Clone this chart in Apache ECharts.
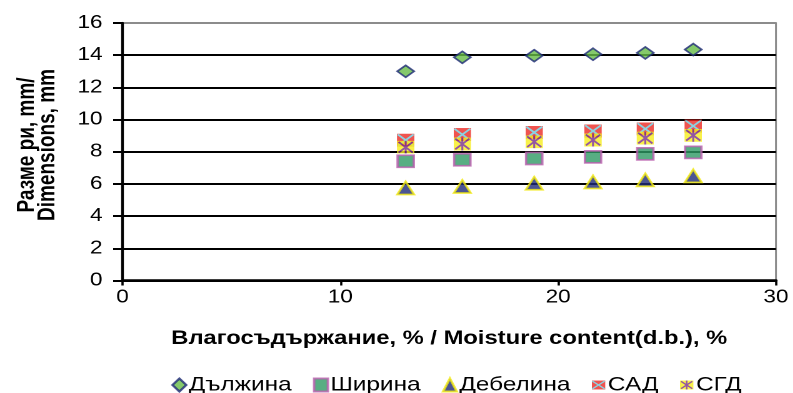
<!DOCTYPE html>
<html>
<head>
<meta charset="utf-8">
<script src="https://cdn.jsdelivr.net/npm/echarts@6/dist/echarts.min.js"></script>
<style>
  html, body { margin: 0; padding: 0; background: #fff; overflow: hidden; }
  /* the chart is drawn on a narrower canvas and widened, giving the wide lettering */
  #chart { width: 634.4px; height: 393px; transform: scaleX(1.25); transform-origin: 0 0; }
</style>
</head>
<body>
<div id="chart"></div>
<script>
// Moisture content (d.b.), %
const moisture = [13.0, 15.6, 18.9, 21.6, 24.0, 26.2];
// Dimensions, mm
const lengthMm = [13.0, 13.87, 13.97, 14.06, 14.14, 14.35];   // Дължина
const widthMm = [7.41, 7.50, 7.58, 7.68, 7.87, 7.96];          // Ширина
const thickMm = [5.75, 5.84, 6.04, 6.12, 6.25, 6.50];          // Дебелина
const arithMean = [8.72, 9.07, 9.20, 9.29, 9.42, 9.60];        // САД
const geoMean = [8.28, 8.48, 8.62, 8.73, 8.85, 9.02];          // СГД

const seriesNames = ['Дължина', 'Ширина', 'Дебелина', 'САД', 'СГД'];
const xTicks = { min: 0, max: 30, step: 10 };
const yTicks = { min: 0, max: 16, step: 2 };

const FONT = '"Liberation Sans", Arial, sans-serif';

function pairs(xs, ys) { return xs.map((x, i) => [x, ys[i]]); }

function svgIcon(body) {
  const svg = '<svg xmlns="http://www.w3.org/2000/svg" width="32" height="26" viewBox="0 0 16 13">' + body + '</svg>';
  return 'image://data:image/svg+xml;charset=utf-8,' + encodeURIComponent(svg);
}

// red box crossed by a cyan X
const sadIcon = svgIcon(
  '<rect x="0" y="0" width="16" height="13" fill="#ec2a24"/>' +
  '<path d="M0.8 0.8 L15.2 12.2 M15.2 0.8 L0.8 12.2" stroke="#6fc9dc" stroke-width="1.8" fill="none"/>'
);
// yellow box with a purple asterisk
const sgdIcon = svgIcon(
  '<rect x="0" y="0" width="16" height="13" fill="#f7ee1e"/>' +
  '<path d="M1.5 1.2 L14.5 11.8 M14.5 1.2 L1.5 11.8 M8 0 L8 13" stroke="#7a2d8c" stroke-width="1.8" fill="none"/>'
);

const chart = echarts.init(document.getElementById('chart'), null, { renderer: 'canvas', devicePixelRatio: 2 });

const gridColors = [];
for (let v = yTicks.min; v <= yTicks.max; v += yTicks.step) {
  gridColors.push(v === yTicks.max ? '#8c8c8c' : '#000000');
}

chart.setOption({
  animation: false,
  backgroundColor: '#ffffff',
  textStyle: { fontFamily: FONT },
  grid: {
    left: 98, right: 13.2, top: 23, bottom: 112.5,
    show: true, borderColor: '#8c8c8c', borderWidth: 1.5, backgroundColor: 'transparent'
  },
  xAxis: {
    type: 'value',
    min: xTicks.min, max: xTicks.max, interval: xTicks.step,
    name: 'Влагосъдържание, % / Moisture content(d.b.), %',
    nameLocation: 'middle', nameGap: 49,
    nameTextStyle: { fontFamily: FONT, fontSize: 19, fontWeight: 'bold', color: '#000' },
    axisLine: { show: true, onZero: false, lineStyle: { color: '#000', width: 2.5 } },
    axisTick: { show: true, inside: false, length: 5, lineStyle: { color: '#000', width: 1.8 } },
    axisLabel: { fontFamily: FONT, fontSize: 18, color: '#000', margin: 8 },
    splitLine: { show: false }
  },
  yAxis: {
    type: 'value',
    min: yTicks.min, max: yTicks.max, interval: yTicks.step,
    axisLine: { show: true, onZero: false, lineStyle: { color: '#000', width: 2.2 } },
    axisTick: { show: true, inside: false, length: 7.5, lineStyle: { color: '#000', width: 2 } },
    axisLabel: { fontFamily: FONT, fontSize: 18, color: '#000', margin: 16 },
    splitLine: { show: true, lineStyle: { color: gridColors, width: 2 } }
  },
  graphic: [{
    type: 'text',
    x: 30, y: 145,
    rotation: Math.PI / 2,
    style: {
      text: 'Разме ри, mm/\nDimensions, mm',
      fontFamily: FONT, fontSize: 19, fontWeight: 'bold', fill: '#000',
      align: 'center', verticalAlign: 'middle', lineHeight: 16.5
    }
  }],
  legend: {
    top: 370, left: 132,
    itemWidth: 11, itemHeight: 13, itemGap: 17,
    textStyle: { fontFamily: FONT, fontSize: 19.5, color: '#000', padding: [0, 0, 0, -3] },
    data: seriesNames
  },
  series: [
    {
      name: seriesNames[0], type: 'scatter', data: pairs(moisture, lengthMm),
      symbol: 'diamond', symbolSize: [13.5, 12],
      itemStyle: { color: '#66bb46', borderColor: '#1f2a78', borderWidth: 1.6 }
    },
    {
      name: seriesNames[1], type: 'scatter', data: pairs(moisture, widthMm),
      symbol: 'rect', symbolSize: [13, 12],
      itemStyle: { color: '#2e9a64', borderColor: '#b95fae', borderWidth: 1.8 }
    },
    {
      name: seriesNames[2], type: 'scatter', data: pairs(moisture, thickMm),
      symbol: 'triangle', symbolSize: [13.5, 13],
      itemStyle: { color: '#1f2a78', borderColor: '#f3ea10', borderWidth: 1.8 }
    },
    {
      name: seriesNames[3], type: 'scatter', data: pairs(moisture, arithMean),
      symbol: sadIcon, symbolSize: [14, 13]
    },
    {
      name: seriesNames[4], type: 'scatter', data: pairs(moisture, geoMean),
      symbol: sgdIcon, symbolSize: [14, 13]
    }
  ]
});
</script>
</body>
</html>
